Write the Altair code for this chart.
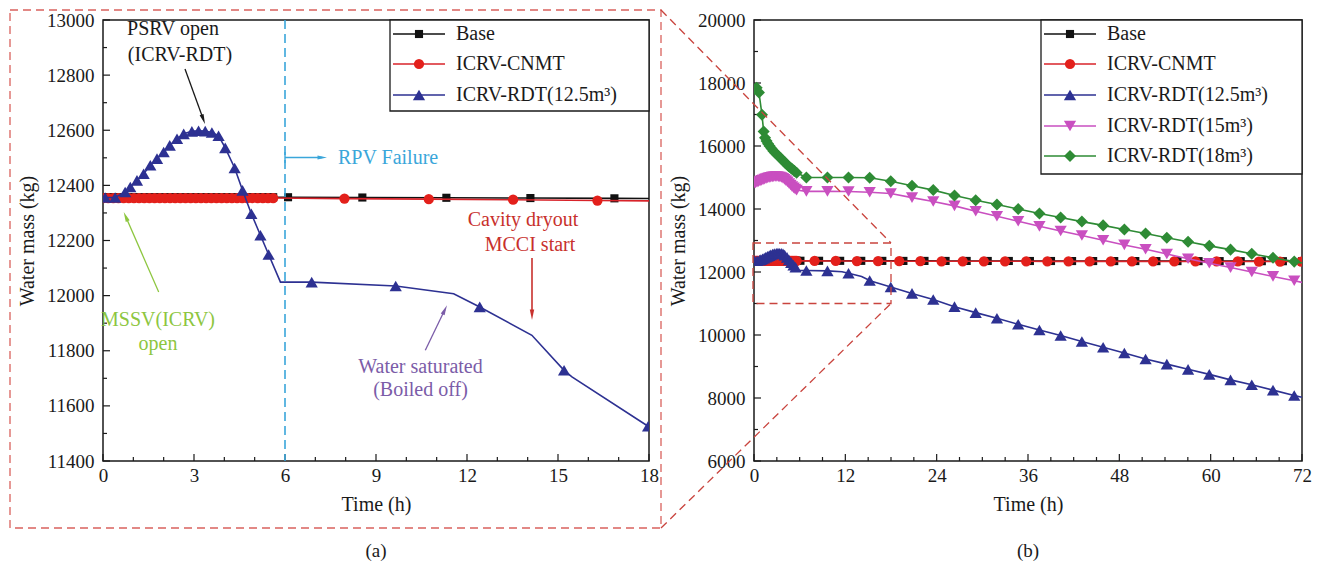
import math
import altair as alt
import pandas as pd

FONT = "Liberation Serif"
INK = "#1a1a1a"

# ---------------- data ----------------
# early (0 - 5.6 h) sample times shared by Base and ICRV-CNMT
early_t = [0.0, 0.17, 0.34, 0.51, 0.68, 0.85, 1.02, 1.19, 1.36, 1.53, 1.7, 1.87,
           2.04, 2.21, 2.38, 2.55, 2.72, 2.89, 3.06, 3.23, 3.4, 3.57, 3.74, 3.91,
           4.08, 4.25, 4.42, 4.59, 4.76, 4.93, 5.1, 5.27, 5.44, 5.61]

base_t = early_t + [6.1, 8.55, 11.32, 14.09, 16.86, 19.63, 22.4, 25.17, 27.94, 30.71,
                    33.48, 36.25, 39.02, 41.79, 44.56, 47.33, 50.1, 52.87, 55.64, 58.41,
                    61.18, 63.95, 66.72, 69.49, 72.0]
base_v = [12357, 12357, 12357, 12357, 12357, 12357, 12357, 12357, 12357, 12357, 12357, 12357,
          12357, 12357, 12357, 12357, 12357, 12357, 12357, 12357, 12357, 12357, 12357, 12357,
          12357, 12357, 12357, 12357, 12357, 12357, 12357, 12357, 12357, 12357,
          12357, 12356, 12355, 12354, 12353, 12352, 12352, 12351, 12351, 12350,
          12350, 12349, 12349, 12348, 12348, 12347, 12347, 12346, 12346, 12345,
          12345, 12344, 12344, 12343, 12343]

cnmt_t = early_t + [7.96, 10.74, 13.52, 16.3, 19.08, 21.86, 24.64, 27.42, 30.2, 32.98,
                    35.76, 38.54, 41.32, 44.1, 46.88, 49.66, 52.44, 55.22, 58.0, 60.78,
                    63.56, 66.34, 69.12, 71.9]
cnmt_v = [12354, 12354, 12354, 12354, 12354, 12354, 12354, 12354, 12354, 12354, 12354, 12354,
          12354, 12354, 12354, 12354, 12354, 12354, 12354, 12354, 12354, 12354, 12354, 12354,
          12354, 12354, 12354, 12354, 12354, 12354, 12354, 12354, 12354, 12354,
          12352, 12350, 12348, 12345, 12343, 12342, 12341, 12340, 12340, 12339,
          12339, 12338, 12338, 12337, 12337, 12336, 12336, 12335, 12335, 12334,
          12334, 12333, 12333, 12332]

# later marker times shared by the ICRV-RDT cases
late_t = [6.88, 9.65, 12.42, 15.2, 17.97, 20.76, 23.55, 26.34, 29.13, 31.92, 34.71, 37.5,
          40.29, 43.08, 45.87, 48.66, 51.45, 54.24, 57.03, 59.82, 62.61, 65.4, 68.19, 70.98]

rdt125_t = [0.07, 0.4, 0.73, 0.9, 1.12, 1.34, 1.56, 1.78, 2.0, 2.2, 2.44, 2.66, 2.93,
            3.15, 3.37, 3.59, 3.81, 4.03, 4.34, 4.6, 4.89, 5.19, 5.46] + late_t
rdt125_v = [12356, 12356, 12376, 12394, 12418, 12442, 12473, 12497, 12521, 12545, 12569,
            12587, 12596, 12598, 12597, 12592, 12580, 12536, 12463, 12382, 12297, 12219,
            12149,
            12049, 12035, 11959, 11729, 11526, 11320, 11125, 10900, 10710, 10530, 10340,
            10160, 9985, 9795, 9610, 9430, 9240, 9075, 8910, 8750, 8575, 8420, 8250, 8080]
# line vertices without a marker
rdt125_kink_t = [0.0, 5.85, 11.56, 14.14, 15.46, 72.0]
rdt125_kink_v = [12356, 12049, 12007, 11856, 11705, 8025]

rdt15_t = [0.0, 0.2, 0.4, 0.6, 0.8, 1.0, 1.2, 1.4, 1.6, 1.8, 2.0, 2.2, 2.4, 2.6, 2.8,
           3.0, 3.2, 3.4, 3.6, 3.8, 4.0, 4.2, 4.4, 4.6, 4.8, 5.0, 5.2, 5.4, 5.6] + late_t
rdt15_v = [14820, 14830, 14850, 14870, 14890, 14910, 14930, 14950, 14970, 14985, 15000,
           15010, 15020, 15025, 15030, 15030, 15025, 15015, 15000, 14975, 14940, 14900,
           14860, 14810, 14760, 14710, 14670, 14630, 14600,
           14560, 14560, 14555, 14530, 14490, 14360, 14240, 14100, 13930, 13770, 13610,
           13450, 13300, 13160, 13010, 12860, 12720, 12570, 12420, 12280, 12140, 12000,
           11860, 11720]
rdt15_kink_t = [72.0]
rdt15_kink_v = [11670]

rdt18_t = [0.0, 0.35, 0.65, 1.05, 1.27, 1.45, 1.65, 1.85, 2.05, 2.3, 2.55, 2.8, 3.05,
           3.3, 3.55, 3.8, 4.05, 4.3, 4.55, 4.8, 5.05, 5.3, 5.6] + late_t
rdt18_v = [17800, 17850, 17700, 16990, 16460, 16260, 16160, 16070, 16000, 15920, 15840,
           15780, 15720, 15660, 15600, 15540, 15480, 15420, 15360, 15310, 15260, 15210,
           15150,
           15000, 15000, 15000, 14990, 14880, 14740, 14600, 14430, 14280, 14140, 14000,
           13860, 13730, 13600, 13480, 13350, 13220, 13090, 12960, 12830, 12710, 12580,
           12450, 12330]
rdt18_kink_t = [72.0]
rdt18_kink_v = [12290]

# axis tick values
a_x_major = [0, 3, 6, 9, 12, 15, 18]
a_x_minor = [1, 2, 4, 5, 7, 8, 10, 11, 13, 14, 16, 17]
a_y_major = [11400, 11600, 11800, 12000, 12200, 12400, 12600, 12800, 13000]
a_y_minor = [11500, 11700, 11900, 12100, 12300, 12500, 12700, 12900]
b_x_major = [0, 12, 24, 36, 48, 60, 72]
b_x_minor = [3, 6, 9, 15, 18, 21, 27, 30, 33, 39, 42, 45, 51, 54, 57, 63, 66, 69]
b_y_major = [6000, 8000, 10000, 12000, 14000, 16000, 18000, 20000]
b_y_minor = [7000, 9000, 11000, 13000, 15000, 17000, 19000]

SERIES = {
    "Base": dict(t=base_t, v=base_v, kt=[], kv=[], color="#111111", shape="square", size=66),
    "ICRV-CNMT": dict(t=cnmt_t, v=cnmt_v, kt=[], kv=[], color="#e3201b", shape="circle", size=105),
    "ICRV-RDT(12.5m³)": dict(t=rdt125_t, v=rdt125_v, kt=rdt125_kink_t, kv=rdt125_kink_v,
                             color="#2d3192", shape="triangle-up", size=150),
    "ICRV-RDT(15m³)": dict(t=rdt15_t, v=rdt15_v, kt=rdt15_kink_t, kv=rdt15_kink_v,
                           color="#c94fc0", shape="triangle-down", size=150),
    "ICRV-RDT(18m³)": dict(t=rdt18_t, v=rdt18_v, kt=rdt18_kink_t, kv=rdt18_kink_v,
                           color="#2e8b35", shape="diamond", size=145),
}

W1, W2, H = 546, 548, 441
LINE_COLOR = {"ICRV-CNMT": "#d8232a"}


# ---------------- helpers ----------------
def one():
    return alt.Chart(pd.DataFrame({"k": [0]}))


def txt(x, y, s, color=INK, size=20, align="center"):
    return one().mark_text(text=s, font=FONT, fontSize=size, color=color, align=align,
                           baseline="middle").encode(x=alt.value(x), y=alt.value(y))


def seg(x1, y1, x2, y2, color, width=1.3, dash=None):
    kw = dict(color=color, strokeWidth=width)
    if dash:
        kw["strokeDash"] = dash
    return one().mark_rule(**kw).encode(x=alt.value(x1), y=alt.value(y1),
                                        x2=alt.value(x2), y2=alt.value(y2))


def arrow(x1, y1, x2, y2, color, width=1.3, head=100):
    dx, dy = x2 - x1, y2 - y1
    L = math.hypot(dx, dy)
    ux, uy = dx / L, dy / L
    ang = math.degrees(math.atan2(ux, -uy)) % 360
    half = math.sqrt(head) / 2
    cx, cy = x2 - ux * half, y2 - uy * half
    return [seg(x1, y1, cx, cy, color, width),
            one().mark_point(shape="M0,-1L0.42,1L-0.42,1Z", filled=True, size=head,
                             angle=round(ang, 2), color=color, opacity=1, strokeWidth=0)
            .encode(x=alt.value(cx), y=alt.value(cy))]


def legend(names, x0, x1, row_y, box_bottom):
    out = [one().mark_rect(fill="white", stroke=INK, strokeWidth=1.3)
           .encode(x=alt.value(x0), x2=alt.value(x1), y=alt.value(0), y2=alt.value(box_bottom))]
    for name, yy in zip(names, row_y):
        s = SERIES[name]
        out.append(seg(x0 + 3, yy, x0 + 55, yy, LINE_COLOR.get(name, s["color"]), 1.6))
        out.append(one().mark_point(shape=s["shape"], filled=True, size=s["size"],
                                    color=s["color"], opacity=1, strokeWidth=0)
                   .encode(x=alt.value(x0 + 29), y=alt.value(yy)))
        out.append(txt(x0 + 66, yy, name, align="left"))
    return out


def panel(names, xdom, ydom, xmaj, xmin, ymaj, ymin, W):
    xe = alt.X("t:Q", scale=alt.Scale(domain=xdom, nice=False, zero=False),
               axis=alt.Axis(values=xmaj, title="Time (h)", format="d"))
    ye = alt.Y("v:Q", scale=alt.Scale(domain=ydom, nice=False, zero=False),
               axis=alt.Axis(values=ymaj, title="Water mass (kg)", format="d"))
    layers = [
        alt.Chart(pd.DataFrame({"v": ymaj})).mark_rule(color=INK, strokeWidth=1.2)
        .encode(y=ye, x=alt.value(0), x2=alt.value(7)),
        alt.Chart(pd.DataFrame({"v": ymin})).mark_rule(color=INK, strokeWidth=1.2)
        .encode(y=ye, x=alt.value(0), x2=alt.value(4)),
        alt.Chart(pd.DataFrame({"t": xmaj})).mark_rule(color=INK, strokeWidth=1.2)
        .encode(x=xe, y=alt.value(H), y2=alt.value(H - 7)),
        alt.Chart(pd.DataFrame({"t": xmin})).mark_rule(color=INK, strokeWidth=1.2)
        .encode(x=xe, y=alt.value(H), y2=alt.value(H - 4)),
    ]
    for name in names:
        s = SERIES[name]
        mk = pd.DataFrame({"t": s["t"], "v": s["v"]})
        ln = pd.concat([mk, pd.DataFrame({"t": s["kt"], "v": s["kv"]})]).sort_values("t")
        layers.append(alt.Chart(ln).mark_line(color=LINE_COLOR.get(name, s["color"]),
                                               strokeWidth=1.6, clip=True)
                      .encode(x=xe, y=ye, order="t:Q"))
        layers.append(alt.Chart(mk).mark_point(shape=s["shape"], filled=True, size=s["size"],
                                               color=s["color"], opacity=1, strokeWidth=0,
                                               clip=True)
                      .encode(x=xe, y=ye))
    return layers, xe


# ---------------- panel (a) ----------------
names_a = ["Base", "ICRV-CNMT", "ICRV-RDT(12.5m³)"]
la, xea = panel(names_a, [0, 18], [11400, 13000], a_x_major, a_x_minor,
                a_y_major, a_y_minor, W1)

RPV = "#3aa6da"
la.append(alt.Chart(pd.DataFrame({"t": [6]})).mark_rule(color=RPV, strokeWidth=1.6,
                                                        strokeDash=[9, 5])
          .encode(x=xea, y=alt.value(0), y2=alt.value(H)))
la.append(seg(182, 132, 182, 143, RPV, 1.4))
la += arrow(182, 137.5, 224, 137.5, RPV, 1.4, head=90)
la.append(txt(235, 137.5, "RPV Failure", color=RPV, align="left"))

la.append(txt(70, 9, "PSRV open"))
la.append(txt(77, 35, "(ICRV-RDT)"))
la += arrow(82, 49, 102, 104, INK, 1.3)

GREEN_T = "#8dc63f"
la.append(txt(55, 300, "MSSV(ICRV)", color=GREEN_T))
la.append(txt(55, 324, "open", color=GREEN_T))
la += arrow(55.7, 272, 20.7, 192, GREEN_T, 1.3)

PURP = "#7b5ca8"
la.append(txt(317.5, 347, "Water saturated", color=PURP))
la.append(txt(317.5, 370, "(Boiled off)", color=PURP))
la += arrow(322.3, 330.3, 344, 285.3, PURP, 1.3)

MC = "#c8302c"
la.append(txt(420, 200, "Cavity dryout", color=MC))
la.append(txt(427, 225, "MCCI start", color=MC))
la += arrow(429, 238, 429, 300, MC, 1.6, head=110)

la += legend(names_a, 287, W1, [14, 44, 75], 91)

BOX = "#d9625d"
la.append(one().mark_rect(fillOpacity=0, stroke=BOX, strokeWidth=1.3, strokeDash=[8, 5])
          .encode(x=alt.value(-93), x2=alt.value(558), y=alt.value(-10), y2=alt.value(508)))
la.append(txt(273, 531, "(a)", size=19))

left = alt.layer(*la).properties(width=W1, height=H)

# ---------------- panel (b) ----------------
names_b = ["Base", "ICRV-CNMT", "ICRV-RDT(12.5m³)", "ICRV-RDT(15m³)", "ICRV-RDT(18m³)"]
lb, xeb = panel(names_b, [0, 72], [6000, 20000], b_x_major, b_x_minor,
                b_y_major, b_y_minor, W2)

lb.append(one().mark_rect(fillOpacity=0, stroke="#c9443e", strokeWidth=1.3, strokeDash=[8, 5])
          .encode(x=alt.value(-1), x2=alt.value(137), y=alt.value(223), y2=alt.value(283.5)))
lb.append(seg(-93, -10, 137, 223, "#c9443e", 1.3, [8, 5]))
lb.append(seg(-93, 508, 137, 283.5, "#c9443e", 1.3, [8, 5]))
lb += legend(names_b, 287, W2, [14, 44, 75, 106, 136], 154)
lb.append(txt(274, 531, "(b)", size=19))

right = alt.layer(*lb).properties(width=W2, height=H)

chart = (
    alt.hconcat(left, right, spacing=105, bounds="flush", padding=0)
    .configure_axis(labelFont=FONT, labelFontSize=19, titleFont=FONT, titleFontSize=20,
                    titleFontWeight="normal", labelColor=INK, titleColor=INK,
                    ticks=False, tickSize=0, domain=False, grid=False,
                    labelFlush=False, labelOverlap=False)
    .configure_axisX(labelPadding=5, titlePadding=9)
    .configure_axisY(labelPadding=9, titlePadding=9)
    .configure_view(stroke=INK, strokeWidth=1.5)
)

chart.save("out.html", embed_options={"renderer": "svg", "actions": False})
